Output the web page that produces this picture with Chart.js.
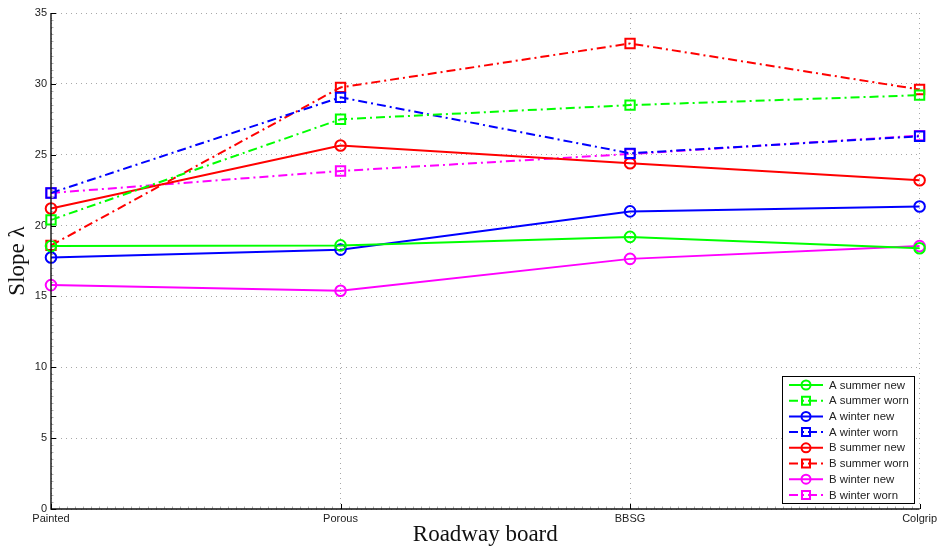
<!DOCTYPE html>
<html>
<head>
<meta charset="utf-8">
<script src="https://cdn.jsdelivr.net/npm/chart.js@4/dist/chart.umd.min.js"></script>
<style>
  html, body { margin: 0; padding: 0; background: #fff; }
  #wrap { width: 940px; height: 551px; }
</style>
</head>
<body>
<div id="wrap"><canvas id="c" width="940" height="551"></canvas></div>
<script>
// Road surfaces on the horizontal axis
const boards = ['Painted', 'Porous', 'BBSG', 'Colgrip'];

// Slope λ per tyre / season / wear condition
const aSummerNew = [18.55, 18.6, 19.2, 18.4];
const aSummerWorn = [20.4, 27.5, 28.5, 29.2];
const aWinterNew = [17.75, 18.3, 21.0, 21.35];
const aWinterWorn = [22.3, 29.05, 25.1, 26.3];
const bSummerNew = [21.2, 25.65, 24.4, 23.2];
const bSummerWorn = [18.6, 29.75, 32.85, 29.6];
const bWinterNew = [15.8, 15.4, 17.65, 18.55];
const bWinterWorn = [22.3, 23.85, 25.05, 26.35];

const yTicks = [0, 5, 10, 15, 20, 25, 30, 35];

const GREEN = '#00ff00', BLUE = '#0000ff', RED = '#ff0000', MAGENTA = '#ff00ff';
const DASHDOT = [9, 4, 2, 4];

function series(label, data, color, worn) {
  return {
    label, data,
    borderColor: color,
    backgroundColor: color,
    borderWidth: 2,
    borderDash: worn ? DASHDOT : [],
    pointStyle: worn ? 'rect' : 'circle',
    pointRadius: worn ? 6.6 : 5.3,
    pointHoverRadius: worn ? 6.6 : 5.3,
    pointBorderWidth: 2,
    pointBorderColor: color,
    pointBackgroundColor: 'rgba(0,0,0,0)',
    tension: 0,
    fill: false
  };
}

// Solid axis lines, inward major ticks and fine minor ticks
const axisTicks = {
  id: 'axisTicks',
  afterDatasetsDraw(chart) {
    const ctx = chart.ctx;
    const x = chart.scales.x, y = chart.scales.y;
    const area = chart.chartArea;
    ctx.save();
    // minor ticks
    ctx.strokeStyle = '#b0b0b0';
    ctx.lineWidth = 1;
    ctx.beginPath();
    for (let v = 0; v <= 35; v += 0.5) {
      const py = Math.round(y.getPixelForValue(v)) + 0.5;
      ctx.moveTo(area.left, py);
      ctx.lineTo(area.left + 2.5, py);
    }
    const steps = 36 * (boards.length - 1);
    for (let i = 0; i <= steps; i++) {
      const px = Math.round(x.getPixelForValue(i / 36)) + 0.5;
      ctx.moveTo(px, area.bottom);
      ctx.lineTo(px, area.bottom - 2.5);
    }
    ctx.stroke();
    // axis lines
    ctx.strokeStyle = '#111';
    ctx.lineWidth = 1.4;
    ctx.beginPath();
    ctx.moveTo(area.left, area.top);
    ctx.lineTo(area.left, area.bottom);
    ctx.lineTo(area.right, area.bottom);
    ctx.stroke();
    // major ticks
    ctx.strokeStyle = '#000';
    ctx.lineWidth = 1;
    ctx.beginPath();
    yTicks.forEach(v => {
      const py = Math.round(y.getPixelForValue(v)) + 0.5;
      ctx.moveTo(area.left, py);
      ctx.lineTo(area.left + 5, py);
    });
    boards.forEach((b, i) => {
      const px = Math.round(x.getPixelForValue(i)) + 0.5;
      ctx.moveTo(px, area.bottom);
      ctx.lineTo(px, area.bottom - 5);
    });
    ctx.stroke();
    ctx.restore();
  }
};

// Boxed legend in the lower right corner of the plot
const boxLegend = {
  id: 'boxLegend',
  afterDraw(chart) {
    const ctx = chart.ctx;
    const left = 782, top = 376, right = 914, bottom = 503;
    ctx.save();
    ctx.fillStyle = '#fff';
    ctx.fillRect(left, top, right - left, bottom - top);
    ctx.strokeStyle = '#000';
    ctx.lineWidth = 1;
    ctx.strokeRect(left + 0.5, top + 0.5, right - left, bottom - top);
    ctx.font = '11.4px "Liberation Sans", Arial, sans-serif';
    ctx.textBaseline = 'middle';
    ctx.textAlign = 'left';
    chart.data.datasets.forEach((ds, i) => {
      const cy = 385 + i * 15.7;
      ctx.strokeStyle = ds.borderColor;
      ctx.lineWidth = 2;
      ctx.setLineDash(ds.borderDash);
      ctx.beginPath();
      ctx.moveTo(789, cy);
      ctx.lineTo(823, cy);
      ctx.stroke();
      ctx.setLineDash([]);
      ctx.beginPath();
      if (ds.pointStyle === 'rect') {
        ctx.rect(806 - 4, cy - 4, 8, 8);
      } else {
        ctx.arc(806, cy, 4.5, 0, Math.PI * 2);
      }
      ctx.stroke();
      ctx.fillStyle = '#222';
      ctx.fillText(ds.label, 829, cy + 0.5);
    });
    ctx.restore();
  }
};

new Chart(document.getElementById('c'), {
  type: 'line',
  data: {
    labels: boards,
    datasets: [
      series('A summer new', aSummerNew, GREEN, false),
      series('A summer worn', aSummerWorn, GREEN, true),
      series('A winter new', aWinterNew, BLUE, false),
      series('A winter worn', aWinterWorn, BLUE, true),
      series('B summer new', bSummerNew, RED, false),
      series('B summer worn', bSummerWorn, RED, true),
      series('B winter new', bWinterNew, MAGENTA, false),
      series('B winter worn', bWinterWorn, MAGENTA, true)
    ]
  },
  options: {
    responsive: false,
    animation: false,
    layout: { padding: { top: 13, right: 20, bottom: 0, left: 0 } },
    plugins: { legend: { display: false }, tooltip: { enabled: false } },
    scales: {
      x: {
        type: 'category',
        offset: false,
        grid: { display: true, color: '#a8a8a8', lineWidth: 1, drawTicks: false },
        border: { display: false, dash: [1, 4] },
        ticks: {
          color: '#222',
          padding: 3,
          maxRotation: 0,
          autoSkip: false,
          font: { family: '"Liberation Sans", Arial, sans-serif', size: 11 }
        },
        title: {
          display: true,
          text: 'Roadway board',
          color: '#111',
          padding: { top: 0, bottom: 2 },
          font: { family: '"Liberation Serif", "Times New Roman", serif', size: 23 }
        },
        afterFit(scale) { scale.height = 42; }
      },
      y: {
        min: 0,
        max: 35,
        afterBuildTicks(scale) { scale.ticks = yTicks.map(v => ({ value: v })); },
        grid: { display: true, color: '#a8a8a8', lineWidth: 1, drawTicks: false },
        border: { display: false, dash: [1, 4] },
        ticks: {
          color: '#222',
          padding: 4,
          font: { family: '"Liberation Sans", Arial, sans-serif', size: 11 }
        },
        title: {
          display: true,
          text: 'Slope λ',
          color: '#111',
          padding: { top: 4, bottom: 0 },
          font: { family: '"Liberation Serif", "Times New Roman", serif', size: 23 }
        },
        afterFit(scale) { scale.width = 51; }
      }
    }
  },
  plugins: [axisTicks, boxLegend]
});
</script>
</body>
</html>
